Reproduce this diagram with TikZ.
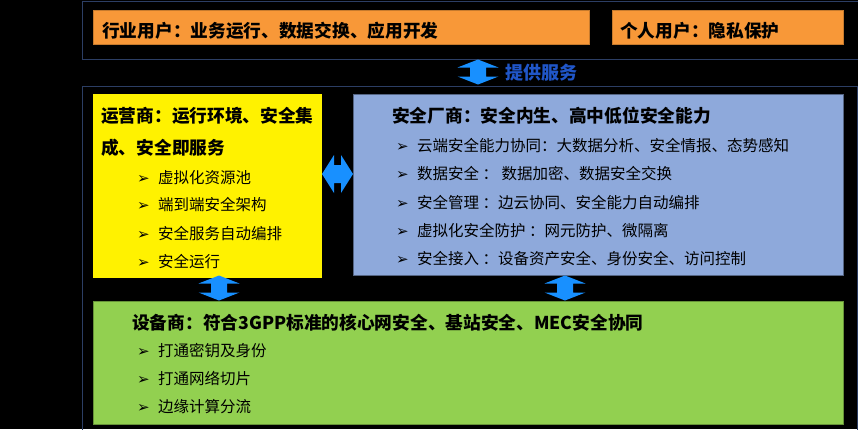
\documentclass[tikz,border=0pt]{standalone}
\usepackage{fontspec}
\setmainfont{Noto Sans CJK SC}
\newfontfamily\dingfont{DejaVu Sans}

\definecolor{framecol}{RGB}{44,62,100}
\definecolor{orangebox}{RGB}{248,152,56}
\definecolor{bluebox}{RGB}{142,169,219}
\definecolor{greenbox}{RGB}{146,208,80}
\definecolor{arrowblue}{RGB}{24,144,255}
\definecolor{svcblue}{RGB}{32,86,200}

\newcommand\itm[1]{\makebox[21pt][l]{\dingfont\fontsize{15}{12}\selectfont ➢}#1}

\tikzset{
  frame/.style={draw=framecol, line width=0.8pt},
  box/.style={anchor=north west, inner sep=0pt, line width=0.6pt},
  title/.style={anchor=west, inner sep=0pt, font=\bfseries\fontsize{17.7}{20}\selectfont},
  item/.style={anchor=west, inner sep=0pt, font=\fontsize{15.5}{18}\selectfont},
  blockarr/.style={fill=arrowblue},
}

\begin{document}
\begin{tikzpicture}[x=1pt,y=-1pt]
  \useasboundingbox (0,0) rectangle (858,429);
  \fill[black] (0,0) rectangle (858,429);
  % outer frames
  \draw[frame] (82,1) rectangle (864,59);
  \draw[frame] (82,86) rectangle (857,440);

  % users
  \node[box, fill=orangebox, draw=orangebox!80!black, minimum width=496pt, minimum height=34pt] (ind) at (93,10) {};
  \node[box, fill=orangebox, draw=orangebox!80!black, minimum width=231pt, minimum height=34pt] (pers) at (612,10) {};
  \node[title] (indt) at (102,31) {行业用户：业务运行、数据交换、应用开发};
  \node[title] (perst) at (620,31) {个人用户：隐私保护};
  \node[title, text=svcblue, font=\bfseries\fontsize{18}{20}\selectfont] (svct) at (505,73) {提供服务};

  % operator
  \node[box, fill=yellow, minimum width=229pt, minimum height=184pt] (op) at (93,94) {};
  \node[title] (opt1) at (101,116) {运营商：运行环境、安全集};
  \node[title] (opt2) at (101,148) {成、安全即服务};
  \foreach \y/\txt [count=\i] in {178/虚拟化资源池,205/端到端安全架构,234/安全服务自动编排,262/安全运行} {
    \node[item] (op\i) at (137,\y) {\itm{\txt}};
  }

  % security vendor
  \node[box, fill=bluebox, draw=bluebox!60!black, minimum width=490pt, minimum height=181pt] (sec) at (353,94) {};
  \node[title] (sect) at (392,116) {安全厂商：安全内生、高中低位安全能力};
  \foreach \y/\txt [count=\i] in {146/云端安全能力协同：大数据分析、安全情报、态势感知,
                                  174/数据安全\ ：\ 数据加密、数据安全交换,
                                  203/安全管理\ ：边云协同、安全能力自动编排,
                                  231/虚拟化安全防护\ ：网元防护、微隔离,
                                  259/安全接入\ ：设备资产安全、身份安全、访问控制} {
    \node[item] (sec\i) at (396,\y) {\itm{\txt}};
  }

  % equipment vendor
  \node[box, fill=greenbox, draw=greenbox!70!black, minimum width=750pt, minimum height=123pt] (eq) at (93,301) {};
  \node[title] (eqt) at (132,323) {设备商：符合3GPP标准的核心网安全、基站安全、MEC安全协同};
  \foreach \y/\txt [count=\i] in {351/打通密钥及身份,379/打通网络切片,407/边缘计算分流} {
    \node[item] (eq\i) at (137,\y) {\itm{\txt}};
  }

  % block arrows
  \foreach \n/\x/\y in {svc/478/72, opeq/219/288, seceq/565/288} {
    \coordinate (\n) at (\x,\y);
    \fill[blockarr, shift={(\n)}] (0,-12.5) -- (20.5,-4.5) -- (8,-4.5) -- (8,4.5) -- (20.5,4.5)
      -- (0,12.5) -- (-20.5,4.5) -- (-8,4.5) -- (-8,-4.5) -- (-20.5,-4.5) -- cycle;
  }
  \coordinate (opsec) at (337.5,174);
  \fill[blockarr, shift={(opsec)}] (-15.5,0) -- (-3.5,-19) -- (-3.5,-9) -- (3.5,-9) -- (3.5,-19)
    -- (15.5,0) -- (3.5,19) -- (3.5,9) -- (-3.5,9) -- (-3.5,19) -- cycle;
\end{tikzpicture}
\end{document}
